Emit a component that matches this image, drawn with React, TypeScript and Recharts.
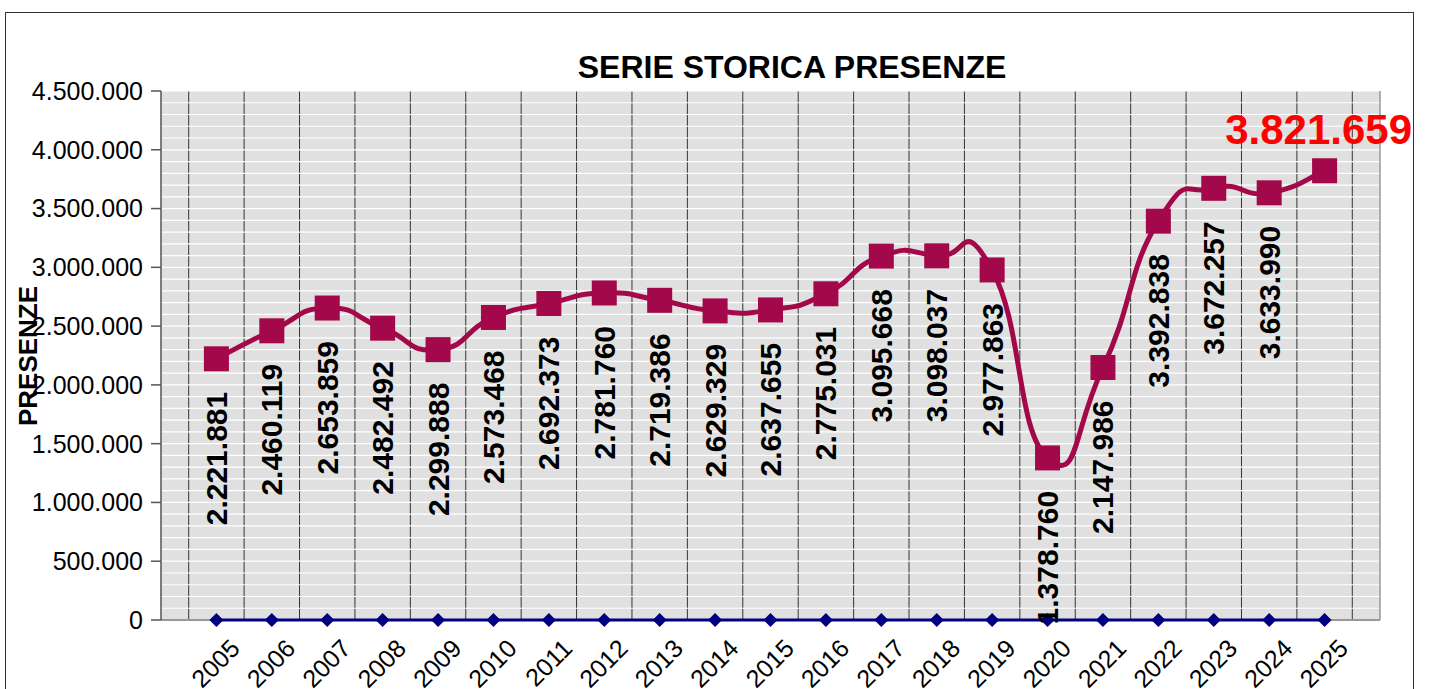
import React from 'react';
import { LineChart, Line, XAxis, YAxis, CartesianGrid, LabelList, ReferenceLine } from 'recharts';

const years = [2005, 2006, 2007, 2008, 2009, 2010, 2011, 2012, 2013, 2014, 2015, 2016, 2017, 2018, 2019, 2020, 2021, 2022, 2023, 2024, 2025];
const presenze = [2221881, 2460119, 2653859, 2482492, 2299888, 2573468, 2692373, 2781760, 2719386, 2629329, 2637655, 2775031, 3095668, 3098037, 2977863, 1378760, 2147986, 3392838, 3672257, 3633990, 3821659];
const baseline = [0, 0, 0, 0, 0, 0, 0, 0, 0, 0, 0, 0, 0, 0, 0, 0, 0, 0, 0, 0, 0];
const yTicks = [0, 500000, 1000000, 1500000, 2000000, 2500000, 3000000, 3500000, 4000000, 4500000];
const gridStep = 100000;
const gridValues = Array.from({ length: 4500000 / gridStep + 1 }, (_, i) => i * gridStep);
const yearBoundaries = [...years.map((y) => y - 0.5), years[years.length - 1] + 0.5];

const data = years.map((year, i) => ({ year, presenze: presenze[i], base: baseline[i] }));

const fmt = (n: number) => String(n).replace(/\B(?=(\d{3})+(?!\d))/g, '.');

const LINE_COLOR = '#A3084A';
const NAVY = '#000080';
const FONT = '"Liberation Sans", Arial, sans-serif';

// Excel-like smoothed curve (Catmull-Rom style Bezier)
const excelSmooth = (context: any) => {
  let pts: number[][] = [];
  return {
    areaStart() {},
    areaEnd() {},
    lineStart() {
      pts = [];
    },
    point(x: number, y: number) {
      pts.push([+x, +y]);
    },
    lineEnd() {
      if (!pts.length) return;
      const f = 0.28;
      context.moveTo(pts[0][0], pts[0][1]);
      for (let i = 0; i < pts.length - 1; i++) {
        const p0 = pts[i - 1] || pts[i];
        const p1 = pts[i];
        const p2 = pts[i + 1];
        const p3 = pts[i + 2] || pts[i + 1];
        context.bezierCurveTo(
          p1[0] + (p2[0] - p0[0]) * f,
          p1[1] + (p2[1] - p0[1]) * f,
          p2[0] - (p3[0] - p1[0]) * f,
          p2[1] - (p3[1] - p1[1]) * f,
          p2[0],
          p2[1]
        );
      }
    },
  };
};

const SquareDot = (props: any) => {
  const { cx, cy, index } = props;
  if (cx == null || cy == null) return <g key={`sq-${index}`} />;
  return <rect key={`sq-${index}`} x={cx - 12.5} y={cy - 12.5} width={25} height={25} fill={LINE_COLOR} />;
};

const DiamondDot = (props: any) => {
  const { cx, cy, index } = props;
  if (cx == null || cy == null) return <g key={`dm-${index}`} />;
  const r = 7;
  return (
    <polygon
      key={`dm-${index}`}
      points={`${cx},${cy - r} ${cx + r},${cy} ${cx},${cy + r} ${cx - r},${cy}`}
      fill={NAVY}
    />
  );
};

const renderValueLabel = (props: any) => {
  const x = props.x ?? props.viewBox?.x;
  const y = props.y ?? props.viewBox?.y;
  const { value, index } = props;
  if (x == null || y == null) return null;
  if (index === presenze.length - 1) {
    return (
      <text x={x - 6} y={y - 27} textAnchor="middle" fill="#FF0000" fontSize={42} fontWeight="bold" fontFamily={FONT}>
        {fmt(value)}
      </text>
    );
  }
  const ax = x + 10.5;
  const ay = y + 33;
  return (
    <text
      x={ax}
      y={ay}
      transform={`rotate(-90 ${ax} ${ay})`}
      textAnchor="end"
      fill="#000"
      fontSize={30}
      fontWeight="bold"
      fontFamily={FONT}
    >
      {fmt(value)}
    </text>
  );
};

const XTick = (props: any) => {
  const { x, y, payload } = props;
  const ax = x + 25;
  const ay = y + 30;
  return (
    <text
      x={ax}
      y={ay}
      transform={`rotate(-45 ${ax} ${ay})`}
      textAnchor="end"
      fill="#000"
      fontSize={25}
      fontFamily={FONT}
    >
      {payload.value}
    </text>
  );
};

const YLabel = () => (
  <text
    x={37}
    y={356}
    transform="rotate(-90 37 356)"
    textAnchor="middle"
    fontSize={26}
    fontWeight="bold"
    fill="#000"
    fontFamily={FONT}
  >
    PRESENZE
  </text>
);

export default function App() {
  return (
    <div
      style={{
        position: 'absolute',
        left: 0,
        top: 0,
        width: 1429,
        height: 689,
        background: '#fff',
        overflow: 'hidden',
        fontFamily: FONT,
      }}
    >
      <div
        style={{
          position: 'absolute',
          left: 5,
          top: 12,
          width: 1409,
          height: 720,
          border: '1px solid #333',
          boxSizing: 'border-box',
        }}
      />
      <div
        style={{
          position: 'absolute',
          left: 392,
          top: 51,
          width: 800,
          textAlign: 'center',
          fontSize: 32,
          lineHeight: '32px',
          fontWeight: 'bold',
          color: '#000',
        }}
      >
        SERIE STORICA PRESENZE
      </div>
      <div style={{ position: 'absolute', left: 0, top: 0 }}>
        <LineChart width={1429} height={689} data={data} margin={{ top: 91, right: 49, bottom: 0, left: 11 }}>
          <CartesianGrid fill="#E0E0E0" horizontal={false} stroke="#333" verticalValues={yearBoundaries} />
          <CartesianGrid vertical={false} stroke="#FFFFFF" strokeWidth={1.2} horizontalValues={gridValues} />
          <CartesianGrid vertical={false} stroke="#999" strokeWidth={2} horizontalValues={[0]} />
          <ReferenceLine x={2026} stroke="#999" strokeWidth={1.5} />
          <XAxis
            dataKey="year"
            type="number"
            domain={[2004, 2026]}
            ticks={years}
            height={69}
            tickLine={false}
            tickSize={0}
            tickMargin={0}
            tick={<XTick />}
            axisLine={false}
            interval={0}
          />
          <YAxis
            type="number"
            domain={[0, 4500000]}
            ticks={yTicks}
            width={150}
            tickSize={10}
            tickMargin={8}
            tickFormatter={(v: number) => fmt(v)}
            tick={{ fontSize: 25, fill: '#000', fontFamily: FONT }}
            tickLine={{ stroke: '#555', strokeWidth: 1.5 }}
            axisLine={{ stroke: '#555', strokeWidth: 1.5 }}
            interval={0}
            label={<YLabel />}
          />
          <Line
            dataKey="base"
            type="linear"
            stroke={NAVY}
            strokeWidth={3}
            dot={<DiamondDot />}
            activeDot={false}
            isAnimationActive={false}
          />
          <Line
            dataKey="presenze"
            type={excelSmooth as any}
            stroke={LINE_COLOR}
            strokeWidth={5}
            dot={SquareDot}
            activeDot={false}
            isAnimationActive={false}
          >
            <LabelList dataKey="presenze" content={renderValueLabel} />
          </Line>
        </LineChart>
      </div>
    </div>
  );
}
